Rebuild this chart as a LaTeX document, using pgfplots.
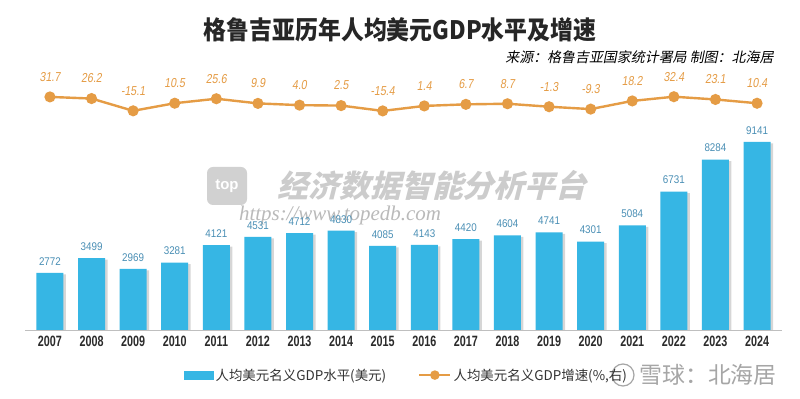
\documentclass[border=0pt]{standalone}
\usepackage{fontspec}
\usepackage{pgfplots}
\usepackage{pgfplotstable}
\pgfplotsset{compat=1.18}
\usetikzlibrary{shadows}
\setmainfont{Liberation Sans}
\newfontfamily\cjk{Noto Sans CJK SC}
\newfontfamily\cjktitle[FakeStretch=0.9]{Noto Sans CJK SC}
\newfontfamily\cjkslant[FakeSlant=0.2]{Noto Sans CJK SC}
\newfontfamily\cjkwm[FakeSlant=0.25]{Noto Sans CJK SC}
\newfontfamily\narrowb[FakeStretch=0.72]{Liberation Sans}
\newfontfamily\narrowr[FakeStretch=0.88]{Liberation Sans}
\newfontfamily\narrowit[FakeStretch=0.82,FakeSlant=0.15]{Liberation Sans}
\newfontfamily\urlfont{Liberation Serif}
\definecolor{barblue}{HTML}{36B6E4}
\definecolor{lblblue}{HTML}{4A8FB5}
\definecolor{lineorange}{HTML}{E59C45}
\definecolor{yeartxt}{HTML}{2B2B2B}
\pgfplotstableread{
x gdp lbl
0 2772 2772
1 3499 3499
2 2969 2969
3 3281 3281
4 4121 4121
5 4531 4531
6 4712 4712
7 4830 4830
8 4085 4085
9 4143 4143
10 4420 4420
11 4604 4604
12 4741 4741
13 4301 4301
14 5084 5084
15 6731 6731
16 8284 8284
17 9141 9141
}\gdptable
\pgfplotstableread{
x g lbl
0 31.7 31.7
1 26.2 26.2
2 -15.1 -15.1
3 10.5 10.5
4 25.6 25.6
5 9.9 9.9
6 4.0 4.0
7 2.5 2.5
8 -15.4 -15.4
9 1.4 1.4
10 6.7 6.7
11 8.7 8.7
12 -1.3 -1.3
13 -9.3 -9.3
14 18.2 18.2
15 32.4 32.4
16 23.1 23.1
17 10.4 10.4
}\growtable
\begin{document}
\begin{tikzpicture}
\useasboundingbox[fill=white] (0bp,0bp) rectangle (800bp,399bp);
% title and source
\node[font=\cjktitle\bfseries\fontsize{25.5}{26}\selectfont, text=black!85] at (400bp,369bp) {格鲁吉亚历年人均美元GDP水平及增速};
\node[anchor=east, font=\cjkslant\fontsize{14}{15}\selectfont, text=black] at (777bp,342bp) {来源：格鲁吉亚国家统计署局 制图：北海居};
% watermarks
\fill[black!18, rounded corners=6bp] (207bp,194bp) rectangle (247bp,232bp);
\node[font=\bfseries\fontsize{15}{15}\selectfont, text=white] at (227bp,213bp) {top};
\node[font=\cjkwm\bfseries\fontsize{31}{32}\selectfont, text=black!20] at (432bp,214bp) {经济数据智能分析平台};
\node[font=\urlfont\itshape\fontsize{21}{22}\selectfont, text=black!45, opacity=0.6] at (340bp,184bp) {https://www.topedb.com};
\node[font=\cjk\fontsize{23}{24}\selectfont, text=black!35] at (708bp,24bp) {雪球：北海居};
\draw[black!35, line width=1.2bp] (623bp,24bp) circle (11bp);
\begin{axis}[
  at={(25bp,69bp)}, anchor=south west,
  scale only axis, width=757bp, height=270bp,
  xmin=-0.6, xmax=17.6, ymin=0, ymax=13126,
  axis x line*=bottom, hide y axis,
  axis line style={black!25},
  x axis line style={-},
  major tick length=0pt,
  xtick={0,...,17},
  xticklabels={2007,2008,2009,2010,2011,2012,2013,2014,2015,2016,2017,2018,2019,2020,2021,2022,2023,2024},
  xticklabel style={font=\narrowb\bfseries\fontsize{15}{15}\selectfont, text=yeartxt, yshift=-3bp},
]
\addplot[ybar, bar width=27bp, fill=barblue, draw=none,
  drop shadow={shadow xshift=2.5bp, shadow yshift=-1.5bp, fill=black!45, opacity=0.35},
  point meta=explicit symbolic,
  nodes near coords,
  every node near coord/.append style={font=\narrowr\fontsize{11.2}{11}\selectfont, text=lblblue, yshift=4bp},
] table[x=x, y=gdp, meta=lbl] {\gdptable};
\end{axis}
\begin{axis}[
  at={(25bp,69bp)}, anchor=south west,
  scale only axis, width=757bp, height=270bp,
  xmin=-0.6, xmax=17.6, ymin=-753, ymax=156,
  hide axis,
  legend columns=2,
  legend style={at={(0.504,-0.167)}, anchor=center, draw=none, fill=none,
    font=\cjk\fontsize{13.5}{14}\selectfont, text=black!80,
    /tikz/every even column/.append style={column sep=30bp}},
]
\addlegendimage{legend image code/.code={\fill[barblue] (0bp,-4bp) rectangle (29bp,4bp);}}
\addlegendentry{人均美元名义GDP水平(美元)}
\addplot[color=lineorange, line width=2.4bp, mark=*, mark size=4.3bp,
  mark options={fill=lineorange, draw=lineorange},
  point meta=explicit symbolic,
  nodes near coords,
  every node near coord/.append style={font=\narrowit\fontsize{13}{13}\selectfont, text=lineorange, yshift=11bp},
  legend image code/.code={\draw[lineorange, line width=2.4bp] (0bp,0bp) -- (31bp,0bp); \fill[lineorange] (15.5bp,0bp) circle (3.5bp);},
] table[x=x, y=g, meta=lbl] {\growtable};
\addlegendentry{人均美元名义GDP增速(\%,右)}
\end{axis}
\end{tikzpicture}
\end{document}
